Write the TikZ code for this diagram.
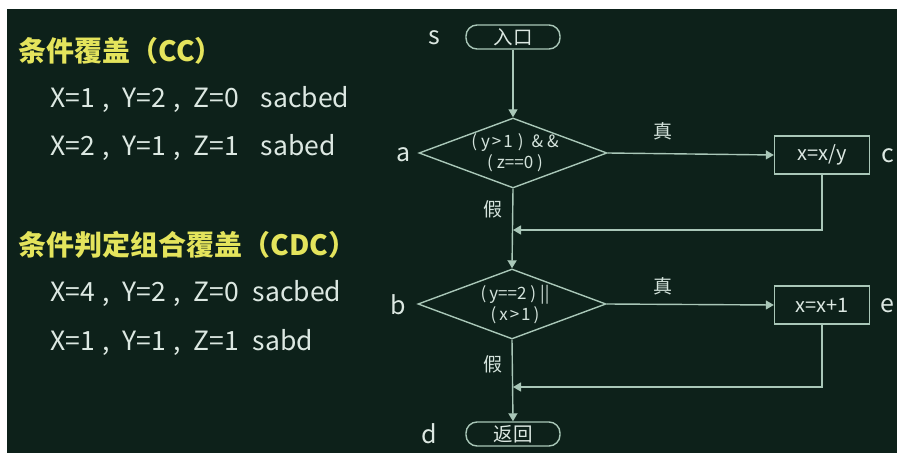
\documentclass[tikz,border=0pt]{standalone}
\usepackage{fontspec}
\setmainfont{Noto Sans CJK SC}
\usetikzlibrary{arrows.meta,shapes.geometric}
\definecolor{board}{HTML}{0D211A}
\definecolor{chalk}{HTML}{A9C7B8}
\definecolor{ink}{HTML}{DCE8E2}
\definecolor{hilite}{HTML}{E4E45C}
% comma with the wide spacing used in the case lines
\newcommand{\sepc}{\hspace{7pt},\hspace{13pt}}
\begin{document}
\begin{tikzpicture}[x=1pt,y=-1pt,
  line width=1.4pt,
  title/.style={anchor=west,text=hilite,font=\fontsize{28}{30}\selectfont\bfseries,inner sep=0},
  case/.style={anchor=west,text=ink,font=\fontsize{26.5}{28}\selectfont,inner sep=0},
  tag/.style={text=ink,font=\fontsize{25}{26}\selectfont,inner sep=0},
  lbl/.style={text=ink!85!chalk,font=\fontsize{19}{20}\selectfont,inner sep=0},
  term/.style={draw=chalk,rounded corners=11pt,minimum width=94pt,minimum height=24pt,inner sep=0,
    text=ink,font=\fontsize{19.5}{20}\selectfont},
  cond/.style={draw=chalk,diamond,minimum width=188pt,minimum height=70pt,inner sep=0},
  condtext/.style={inner sep=0,text=ink!85!chalk,font=\fontsize{17}{21}\selectfont,align=center},
  proc/.style={draw=chalk,rectangle,minimum width=95pt,minimum height=38pt,inner sep=0,
    text=ink,font=\fontsize{20}{22}\selectfont},
  flow/.style={draw=chalk,-{Triangle[width=9pt,length=8pt]}}
]
% paper and board
\fill[white] (0,0) rectangle (904,462);
\fill[board] (7,9) rectangle (897,453);

% test cases
\node[title] (t1) at (18,51) {条件覆盖（CC）};
\node[case] (c1) at (50,99) {X=1\sepc Y=2\sepc Z=0\hspace{22pt}sacbed};
\node[case] (c2) at (50,147) {X=2\sepc Y=1\sepc Z=1\hspace{22pt}sabed};
\node[title] (t2) at (18,245) {条件判定组合覆盖（CDC）};
\node[case] (c3) at (50,293) {X=4\sepc Y=2\sepc Z=0\hspace{14pt}sacbed};
\node[case] (c4) at (50,342) {X=1\sepc Y=1\sepc Z=1\hspace{14pt}sabd};

% flowchart nodes
\node[term] (s) at (513,37) {入口};
\node[cond] (a) at (513,153) {};
\node[condtext] (at) at (515,153) {(\hspace{4pt}y\hspace{2pt}>\hspace{2pt}1\hspace{5pt})\hspace{8pt}\&\hspace{4pt}\&\\(\hspace{4pt}z==0\hspace{4pt})};
\node[proc] (c) at (822,155) {x=x/y};
\node[cond] (b) at (512,304) {};
\node[condtext] (bt) at (515,305) {(\hspace{3pt}y==2\hspace{4pt})\hspace{4pt}||\\(\hspace{3pt}x\hspace{2pt}>\hspace{2pt}1\hspace{3pt})};
\node[proc] (e) at (822,305) {x=x+1};
\node[term] (d) at (513,434) {返回};

\coordinate (j1) at (513,230);
\coordinate (j2) at (513,387);

% node letters
\node[tag] (ls) at (434,38) {s};
\node[tag] (la) at (404,155) {a};
\node[tag] (lc) at (888,156) {c};
\node[tag] (lb) at (398,305) {b};
\node[tag] (le) at (887,306) {e};
\node[tag] (ld) at (429,434) {d};

% branch labels
\node[lbl] (ta) at (663,131) {真};
\node[lbl] (fa) at (493,209) {假};
\node[lbl] (tb) at (663,286) {真};
\node[lbl] (fb) at (493,364) {假};

% connectors
\draw[flow] (s) -- (a);
\draw[flow] (a.east) -- (c.west);
\draw[flow] (c.south) |- (j1);
\draw[flow] (a.south) -- (b.north);
\draw[flow] (b.east) -- (e.west);
\draw[flow] (e.south) |- (j2);
\draw[flow] (b.south) -- (d.north);
\end{tikzpicture}
\end{document}
